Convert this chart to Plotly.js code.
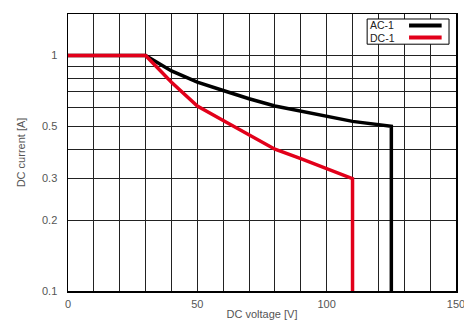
<!DOCTYPE html>
<html>
<head>
<meta charset="utf-8">
<script src="https://cdn.plot.ly/plotly-3.0.1.min.js"></script>
<style>html,body{margin:0;padding:0;background:#fff;}#chart{width:464px;height:327px;}</style>
</head>
<body>
<div id="chart"></div>
<script>
// Data
const seriesNames = ["AC-1", "DC-1"];
const ac1Voltage = [0, 30, 40, 50, 60, 70, 80, 90, 100, 110, 125, 125];
const ac1Current = [1, 1, 0.86, 0.77, 0.71, 0.655, 0.61, 0.58, 0.55, 0.525, 0.5, 0.1];
const dc1Voltage = [0, 30, 40, 50, 60, 70, 80, 90, 100, 110, 110];
const dc1Current = [1, 1, 0.77, 0.61, 0.53, 0.46, 0.4, 0.365, 0.33, 0.3, 0.1];
const xTickVals = [0, 10, 20, 30, 40, 50, 60, 70, 80, 90, 100, 110, 120, 130, 140, 150];
const xTickText = ["0", "", "", "", "", "50", "", "", "", "", "100", "", "", "", "", "150"];
const yTickVals = [0.1, 0.2, 0.3, 0.4, 0.5, 0.6, 0.7, 0.8, 0.9, 1];
const yTickText = ["0.1", "0.2", "0.3", "", "0.5", "", "", "", "", "1"];
const colors = ["#000000", "#e2001a"];

const traces = [
  {x: ac1Voltage, y: ac1Current, name: seriesNames[0], mode: "lines",
   line: {color: colors[0], width: 3.5}, showlegend: false},
  {x: dc1Voltage, y: dc1Current, name: seriesNames[1], mode: "lines",
   line: {color: colors[1], width: 3.5}, showlegend: false}
];

const font = {family: "Liberation Sans, Arial, sans-serif", size: 11, color: "#555"};

const layout = {
  width: 464, height: 327,
  margin: {l: 68, r: 8, t: 14, b: 36, pad: 0},
  paper_bgcolor: "#fff", plot_bgcolor: "#fff",
  font: font,
  showlegend: false,
  xaxis: {
    range: [0, 150], tickmode: "array", tickvals: xTickVals, ticktext: xTickText,
    showgrid: true, gridcolor: "#222", gridwidth: 1, zeroline: false,
    showline: true, linecolor: "#000", linewidth: 1.5, mirror: true, ticks: "",
    tickfont: font, ticklabelstandoff: 2, ticklabeloverflow: "allow",
    title: {text: "DC voltage [V]", font: font, standoff: 1}
  },
  yaxis: {
    type: "log", range: [-1, Math.log10(1.5)], tickmode: "array",
    tickvals: yTickVals, ticktext: yTickText,
    showgrid: true, gridcolor: "#222", gridwidth: 1, zeroline: false,
    showline: true, linecolor: "#000", linewidth: 1.5, mirror: true, ticks: "",
    tickfont: font, ticklabelstandoff: 7, ticklabeloverflow: "allow",
    title: {text: "DC current [A]", font: font, standoff: 14}
  },
  shapes: [
    {type: "rect", xref: "paper", yref: "paper", x0: 0.771, x1: 0.982, y0: 0.891, y1: 0.982,
     line: {color: "#000", width: 1}, fillcolor: "#fff", layer: "above"},
    {type: "line", xref: "paper", yref: "paper", x0: 0.879, x1: 0.963, y0: 0.9585, y1: 0.9585,
     line: {color: colors[0], width: 4}, layer: "above"},
    {type: "line", xref: "paper", yref: "paper", x0: 0.879, x1: 0.963, y0: 0.915, y1: 0.915,
     line: {color: colors[1], width: 4}, layer: "above"}
  ],
  annotations: [
    {xref: "paper", yref: "paper", x: 0.777, y: 0.9585, xanchor: "left", yanchor: "middle",
     text: seriesNames[0], showarrow: false, borderpad: 0,
     font: {family: font.family, size: 10.5, color: "#222"}},
    {xref: "paper", yref: "paper", x: 0.777, y: 0.915, xanchor: "left", yanchor: "middle",
     text: seriesNames[1], showarrow: false, borderpad: 0,
     font: {family: font.family, size: 10.5, color: "#222"}}
  ]
};

Plotly.newPlot("chart", traces, layout, {displayModeBar: false, staticPlot: true});
</script>
</body>
</html>
